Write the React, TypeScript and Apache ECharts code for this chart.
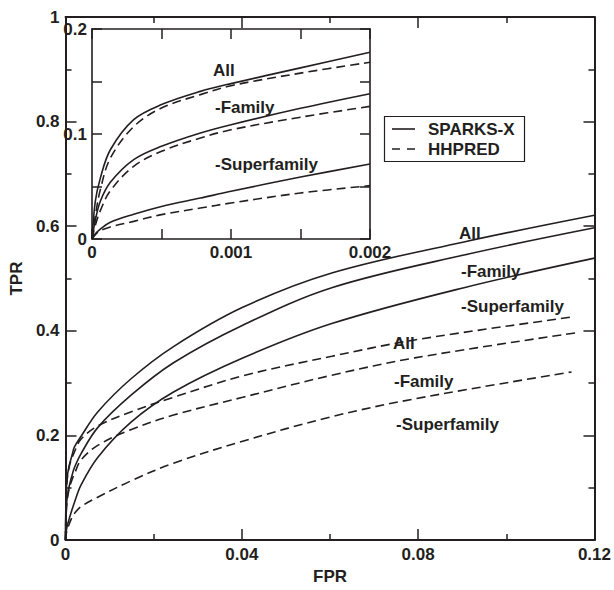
import React, { useEffect, useRef } from "react";
import * as echarts from "echarts";

const FONT = '"Liberation Sans", Arial, Helvetica, sans-serif';
const INK = "#231f20";

// ---- data ----
const insetFPR = [0, 0.000024, 0.00006, 0.000132, 0.0003, 0.0005, 0.00078, 0.001, 0.0015, 0.002];
const sxAllInset = [0, 0.036, 0.058, 0.085, 0.1137, 0.128, 0.1406, 0.148, 0.163, 0.1778];
const sxFamInset = [0, 0.018, 0.036, 0.054, 0.0756, 0.0883, 0.101, 0.1089, 0.1245, 0.1384];
const sxSupInset = [0, 0.005, 0.0095, 0.016, 0.0235, 0.031, 0.039, 0.0454, 0.059, 0.0714];
const hhAllInset = [0, 0.022, 0.047, 0.077, 0.107, 0.1248, 0.1375, 0.146, 0.158, 0.1683];
const hhFamInset = [0, 0.013, 0.027, 0.046, 0.0692, 0.0835, 0.0962, 0.104, 0.116, 0.1263];
const hhSupInset = [0, 0.004, 0.008, 0.0115, 0.0168, 0.0232, 0.0295, 0.0343, 0.0438, 0.0508];

const sxFPR = [0.0035, 0.0073, 0.0148, 0.0245, 0.0402, 0.0604, 0.0904, 0.12];
const sxAll = [0.198, 0.245, 0.308, 0.37, 0.445, 0.5106, 0.57, 0.621];
const sxFam = [0.165, 0.215, 0.2765, 0.339, 0.4107, 0.4825, 0.545, 0.597];
const sxSup = [0.105, 0.158, 0.225, 0.283, 0.348, 0.4139, 0.4825, 0.539];

const hhFPR = [0.0035, 0.0073, 0.0148, 0.0245, 0.0402, 0.0604, 0.0792];
const hhEndFPR = [0.1148, 0.1159, 0.1148];
const hhAll = [0.193, 0.218, 0.245, 0.273, 0.314, 0.3514, 0.3826, 0.4263];
const hhFam = [0.153, 0.181, 0.211, 0.239, 0.273, 0.3152, 0.3483, 0.3964];
const hhSup = [0.064, 0.082, 0.113, 0.147, 0.189, 0.236, 0.27, 0.3215];

const methodNames = ["SPARKS-X", "HHPRED"];
const curveLabels = ["All", "-Family", "-Superfamily"];

const mainX = { min: 0, max: 0.12, interval: 0.04 };
const mainY = { min: 0, max: 1, interval: 0.2 };
const insetX = { min: 0, max: 0.002, interval: 0.001 };
const insetY = { min: 0, max: 0.2, interval: 0.1 };

const DASH = [9, 5];

const pairs = (xs: number[], ys: number[]) => xs.map((x, i) => [x, ys[i]]);

export default function App() {
  const ref = useRef<HTMLDivElement>(null);

  useEffect(() => {
    if (!ref.current) return;
    const chart = echarts.init(ref.current, undefined, { renderer: "svg" });

    const labelStyle = { fontFamily: FONT, fontSize: 17, fontWeight: "bold", color: INK };

    const axis = (range: any, opts: any) => ({
      type: "value",
      gridIndex: opts.grid,
      position: opts.position,
      min: range.min,
      max: range.max,
      interval: range.interval,
      axisLine: { show: true, onZero: false, lineStyle: { color: INK, width: opts.lineW } },
      axisTick: { show: true, inside: true, length: opts.tickLen, lineStyle: { color: INK, width: 1.5 } },
      minorTick: { show: true, splitNumber: 2, length: opts.minorLen, lineStyle: { color: INK, width: 1.5 } },
      splitLine: { show: false },
      minorSplitLine: { show: false },
      axisLabel: { show: opts.labels, margin: opts.margin ?? 6, ...labelStyle },
      ...(opts.extra || {}),
    });

    const mk = (name: string, data: number[][], dashed: boolean, xi: number, yi: number) => ({
      type: "line",
      name,
      data,
      xAxisIndex: xi,
      yAxisIndex: yi,
      symbol: "none",
      showSymbol: false,
      smooth: 0.35,
      clip: true,
      silent: true,
      lineStyle: { color: INK, width: 1.6, type: dashed ? DASH : "solid" },
      itemStyle: { color: INK },
    });

    const sxInset = [sxAllInset, sxFamInset, sxSupInset];
    const hhInset = [hhAllInset, hhFamInset, hhSupInset];
    const sxMain = [sxAll, sxFam, sxSup];
    const hhMain = [hhAll, hhFam, hhSup];

    const series: any[] = [];
    for (let i = 0; i < 3; i++) {
      series.push(mk(methodNames[0], pairs(insetFPR, sxInset[i]).concat(pairs(sxFPR, sxMain[i])), false, 0, 0));
      series.push(
        mk(methodNames[1], pairs(insetFPR, hhInset[i]).concat(pairs([...hhFPR, hhEndFPR[i]], hhMain[i])), true, 0, 0)
      );
    }
    for (let i = 0; i < 3; i++) {
      series.push(mk(methodNames[0], pairs(insetFPR, sxInset[i]), false, 2, 2));
      series.push(mk(methodNames[1], pairs(insetFPR, hhInset[i]), true, 2, 2));
    }

    const txt = (text: string, x: number, y: number) => ({
      type: "text",
      x,
      y,
      z: 10,
      style: { text, fill: INK, font: `bold 17px ${FONT}`, align: "left", verticalAlign: "middle" },
    });

    const legendBox = { left: 384, top: 116, width: 140, height: 45 };
    const legendGraphic = {
      type: "group",
      x: legendBox.left,
      y: legendBox.top,
      z: 10,
      children: [
        {
          type: "rect",
          shape: { x: 0.5, y: 0.5, width: legendBox.width, height: legendBox.height },
          style: { fill: "#fff", stroke: INK, lineWidth: 1.2 },
        },
        {
          type: "line",
          shape: { x1: 8, y1: 13, x2: 31, y2: 13 },
          style: { stroke: INK, lineWidth: 1.6 },
        },
        {
          type: "line",
          shape: { x1: 8, y1: 33, x2: 31, y2: 33 },
          style: { stroke: INK, lineWidth: 1.6, lineDash: [8, 7] },
        },
        {
          type: "text",
          x: 44,
          y: 13,
          style: { text: methodNames[0], fill: INK, font: `bold 17px ${FONT}`, verticalAlign: "middle" },
        },
        {
          type: "text",
          x: 44,
          y: 33,
          style: { text: methodNames[1], fill: INK, font: `bold 17px ${FONT}`, verticalAlign: "middle" },
        },
      ],
    };

    chart.setOption({
      animation: false,
      backgroundColor: "#fff",
      grid: [
        { left: 61, top: 17, width: 534, height: 534 },
        { left: 92, top: 29, width: 278, height: 210 },
      ],
      xAxis: [
        axis(mainX, {
          grid: 0, position: "bottom", labels: true, tickLen: 11, minorLen: 6, lineW: 2,
          extra: { name: "FPR", nameLocation: "middle", nameGap: 24, nameTextStyle: labelStyle },
        }),
        axis(mainX, { grid: 0, position: "top", labels: false, tickLen: 11, minorLen: 6, lineW: 2 }),
        axis(insetX, { grid: 1, position: "bottom", labels: true, tickLen: 10, minorLen: 10, lineW: 1.6, margin: 5 }),
        axis(insetX, { grid: 1, position: "top", labels: false, tickLen: 10, minorLen: 10, lineW: 1.6 }),
      ],
      yAxis: [
        axis(mainY, {
          grid: 0, position: "left", labels: true, tickLen: 11, minorLen: 6, lineW: 2,
          extra: { name: "TPR", nameLocation: "middle", nameGap: 33, nameRotate: 90, nameTextStyle: labelStyle },
        }),
        axis(mainY, { grid: 0, position: "right", labels: false, tickLen: 11, minorLen: 6, lineW: 2 }),
        axis(insetY, { grid: 1, position: "left", labels: true, tickLen: 10, minorLen: 10, lineW: 1.6, margin: 5 }),
        axis(insetY, { grid: 1, position: "right", labels: false, tickLen: 10, minorLen: 10, lineW: 1.6 }),
      ],
      graphic: [
        txt(curveLabels[0], 459, 233),
        txt(curveLabels[1], 461, 271),
        txt(curveLabels[2], 461, 306),
        txt(curveLabels[0], 393, 343),
        txt(curveLabels[1], 394, 381),
        txt(curveLabels[2], 396, 424),
        txt(curveLabels[0], 213, 70),
        txt(curveLabels[1], 215, 107),
        txt(curveLabels[2], 215, 164),
        legendGraphic,
      ],
      series,
    });

    return () => chart.dispose();
  }, []);

  return (
    <div
      ref={ref}
      style={{ position: "fixed", left: 0, top: 0, width: 614, height: 590, background: "#fff" }}
    />
  );
}
